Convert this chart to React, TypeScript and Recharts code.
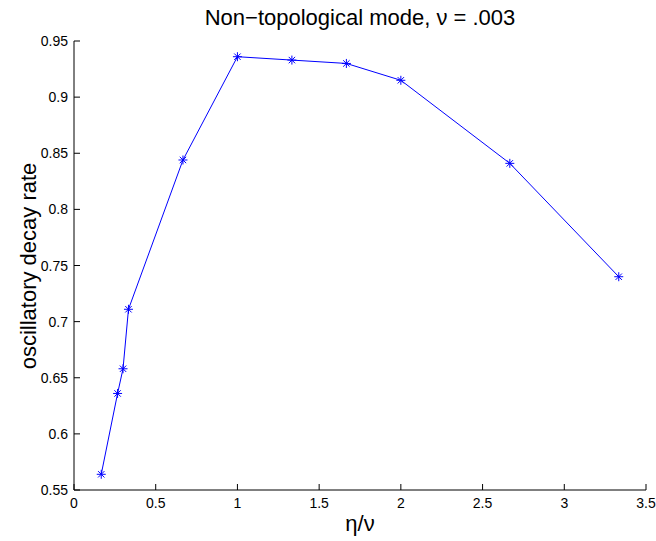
import { LineChart, Line, XAxis, YAxis } from "recharts"

// eta/nu values and measured decay rates
const etaOverNu = [0.1667, 0.2667, 0.3, 0.3333, 0.6667, 1, 1.3333, 1.6667, 2, 2.6667, 3.3333]
const decayRate = [0.564, 0.636, 0.658, 0.711, 0.844, 0.936, 0.933, 0.93, 0.915, 0.841, 0.74]

const xTicks = [0, 0.5, 1, 1.5, 2, 2.5, 3, 3.5]
const yTicks = [0.55, 0.6, 0.65, 0.7, 0.75, 0.8, 0.85, 0.9, 0.95]

const data = etaOverNu.map((x, i) => ({ x, y: decayRate[i] }))

const W = 656
const H = 541
const PLOT_LEFT = 74
const PLOT_RIGHT = 646
const PLOT_TOP = 41
const PLOT_BOTTOM = 490
const TICK_LEN = 6
const FONT = "'Liberation Sans', Arial, Helvetica, sans-serif"
const BLUE = "#0000ff"

const fmt = (v: number) => String(Number(v.toFixed(2)))

function BottomTick({ x, payload }: any) {
  return (
    <g>
      <line x1={x} y1={PLOT_BOTTOM} x2={x} y2={PLOT_BOTTOM - TICK_LEN} stroke="#000" />
      <text x={x} y={PLOT_BOTTOM + 18} textAnchor="middle" fontSize={14} fontFamily={FONT} fill="#000">
        {fmt(payload.value)}
      </text>
    </g>
  )
}

function TopTick({ x }: any) {
  return <line x1={x} y1={PLOT_TOP} x2={x} y2={PLOT_TOP + TICK_LEN} stroke="#000" />
}

function LeftTick({ y, payload }: any) {
  return (
    <g>
      <line x1={PLOT_LEFT} y1={y} x2={PLOT_LEFT + TICK_LEN} y2={y} stroke="#000" />
      <text x={PLOT_LEFT - 6} y={y + 5} textAnchor="end" fontSize={14} fontFamily={FONT} fill="#000">
        {fmt(payload.value)}
      </text>
    </g>
  )
}

function RightTick({ y }: any) {
  return <line x1={PLOT_RIGHT} y1={y} x2={PLOT_RIGHT - TICK_LEN} y2={y} stroke="#000" />
}

// matlab style '*' marker
function Star({ cx, cy, index }: any) {
  const r = 4.5
  const d = 3.2
  return (
    <g key={`star-${index}`} stroke={BLUE} strokeWidth={1}>
      <line x1={cx - r} y1={cy} x2={cx + r} y2={cy} />
      <line x1={cx} y1={cy - r} x2={cx} y2={cy + r} />
      <line x1={cx - d} y1={cy - d} x2={cx + d} y2={cy + d} />
      <line x1={cx - d} y1={cy + d} x2={cx + d} y2={cy - d} />
    </g>
  )
}

export default function App() {
  return (
    <div style={{ position: "absolute", left: 0, top: 0, width: W, height: H, background: "#fff", fontFamily: FONT }}>
      <div
        style={{
          position: "absolute",
          left: PLOT_LEFT,
          width: PLOT_RIGHT - PLOT_LEFT,
          top: 7,
          textAlign: "center",
          fontSize: 22,
          lineHeight: "22px",
          color: "#000",
        }}
      >
        Non−topological mode, ν = .003
      </div>
      <LineChart
        width={W}
        height={H}
        data={data}
        margin={{ top: PLOT_TOP, right: W - PLOT_RIGHT, bottom: H - PLOT_BOTTOM - 30, left: PLOT_LEFT - 60 }}
      >
        <XAxis
          dataKey="x"
          type="number"
          domain={[0, 3.5]}
          ticks={xTicks}
          height={30}
          stroke="#000"
          tickLine={false}
          tick={<BottomTick />}
          allowDataOverflow
        />
        <XAxis
          xAxisId="top"
          orientation="top"
          dataKey="x"
          type="number"
          domain={[0, 3.5]}
          ticks={xTicks}
          height={0}
          stroke="#000"
          tickLine={false}
          tick={<TopTick />}
          allowDataOverflow
        />
        <YAxis
          type="number"
          domain={[0.55, 0.95]}
          ticks={yTicks}
          width={60}
          stroke="#000"
          tickLine={false}
          tick={<LeftTick />}
          allowDataOverflow
        />
        <YAxis
          yAxisId="right"
          orientation="right"
          type="number"
          domain={[0.55, 0.95]}
          ticks={yTicks}
          width={0}
          stroke="#000"
          tickLine={false}
          tick={<RightTick />}
          allowDataOverflow
        />
        <Line
          dataKey="y"
          type="linear"
          stroke={BLUE}
          strokeWidth={1}
          dot={(p: any) => <Star key={`s-${p.index}`} {...p} />}
          activeDot={false}
          isAnimationActive={false}
        />
      </LineChart>
      <div
        style={{
          position: "absolute",
          left: PLOT_LEFT,
          width: PLOT_RIGHT - PLOT_LEFT,
          top: 513,
          textAlign: "center",
          fontSize: 22,
          lineHeight: "22px",
          color: "#000",
        }}
      >
        η/ν
      </div>
      <div
        style={{
          position: "absolute",
          left: 29 - 150,
          top: (PLOT_TOP + PLOT_BOTTOM) / 2 - 11,
          width: 300,
          textAlign: "center",
          fontSize: 22,
          lineHeight: "22px",
          color: "#000",
          transform: "rotate(-90deg)",
        }}
      >
        oscillatory decay rate
      </div>
    </div>
  )
}
